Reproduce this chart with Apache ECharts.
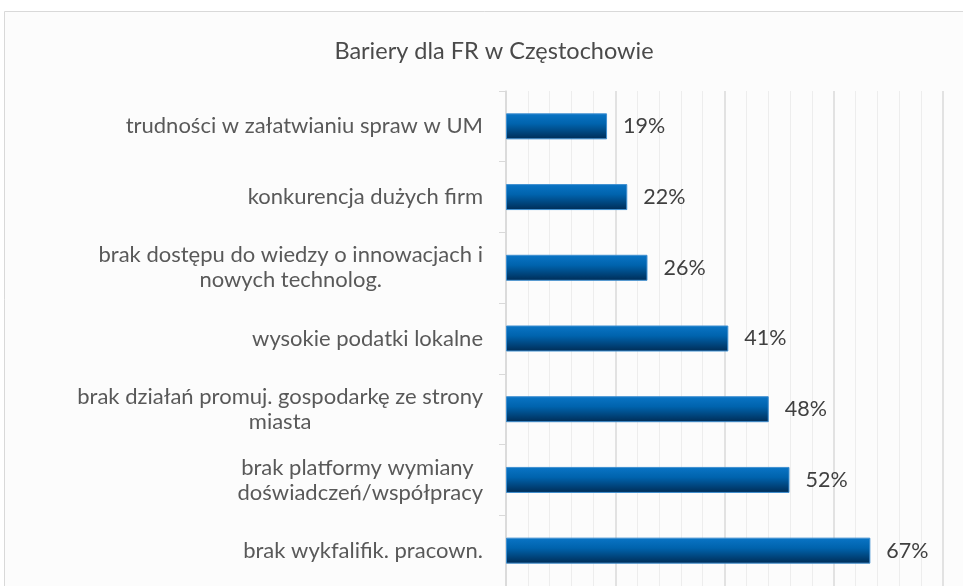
<!DOCTYPE html>
<html>
<head>
<meta charset="utf-8">
<script src="https://cdn.jsdelivr.net/npm/echarts@6/dist/echarts.min.js"></script>
<style>
  html, body { margin: 0; padding: 0; background: #fff; }
  #chart { width: 963px; height: 586px; }
</style>
</head>
<body>
<div id="chart"></div>
<script>
// categories, top to bottom
var categories = [
  "trudności w załatwianiu spraw w UM",
  "konkurencja dużych firm",
  "brak dostępu do wiedzy o innowacjach i\nnowych technolog.",
  "wysokie podatki lokalne",
  "brak działań promuj. gospodarkę ze strony\nmiasta",
  "brak platformy wymiany \ndoświadczeń/współpracy",
  "brak wykfalifik. pracown."
];
// share of answers, %
var values = [18.5, 22.2, 25.9, 40.7, 48.1, 51.9, 66.7];
var axisMax = 80;
var axisStep = 20;

var FONT = "Lato";
var chart = echarts.init(document.getElementById("chart"));

var option = {
  backgroundColor: "#fff",
  animation: false,
  graphic: [
    {
      type: "rect",
      z: -10,
      shape: { x: 4.5, y: 11.5, width: 980, height: 600 },
      style: { fill: "#fcfcfc", stroke: "#d9d9d9", lineWidth: 1 }
    }
  ],
  title: {
    text: "Bariery dla FR w Częstochowie",
    left: 489,
    textAlign: "center",
    top: 34,
    textStyle: {
      fontFamily: FONT,
      fontSize: 23.5,
      fontWeight: "normal",
      color: "#4a4a4a"
    }
  },
  grid: {
    left: 506,
    right: 20,
    top: 91,
    height: 498
  },
  xAxis: {
    type: "value",
    min: 0,
    max: axisMax,
    interval: axisStep,
    axisLine: { show: false },
    axisTick: { show: false },
    axisLabel: { show: false },
    splitLine: { show: true, lineStyle: { color: "#dadada", width: 1.5 } },
    minorTick: { show: false, splitNumber: 5 },
    minorSplitLine: { show: true, lineStyle: { color: "#ededed", width: 1 } }
  },
  yAxis: {
    type: "category",
    data: categories,
    inverse: true,
    axisLine: { show: true, lineStyle: { color: "#d9d9d9", width: 1.5 } },
    axisTick: { show: true, length: 7, lineStyle: { color: "#d9d9d9" } },
    axisLabel: {
      margin: 23,
      formatter: function (v) {
        return v.split("\n").map(function (s) { return "{c|" + s + "}"; }).join("\n");
      },
      rich: {
        c: {
          align: "center",
          fontFamily: FONT,
          fontSize: 22,
          lineHeight: 25,
          color: "#595959"
        }
      }
    }
  },
  series: [
    {
      type: "bar",
      data: values,
      barWidth: 26,
      itemStyle: {
        borderColor: "#3f8fd0",
        borderWidth: 1,
        color: new echarts.graphic.LinearGradient(0, 0, 0, 1, [
          { offset: 0, color: "#0a75c6" },
          { offset: 0.4, color: "#0063ad" },
          { offset: 1, color: "#002c55" }
        ])
      },
      label: {
        show: true,
        position: "right",
        distance: 16,
        fontFamily: FONT,
        fontSize: 21.5,
        color: "#404040",
        formatter: function (p) { return Math.round(p.value) + "%"; }
      }
    }
  ]
};

chart.setOption(option);
</script>
</body>
</html>
